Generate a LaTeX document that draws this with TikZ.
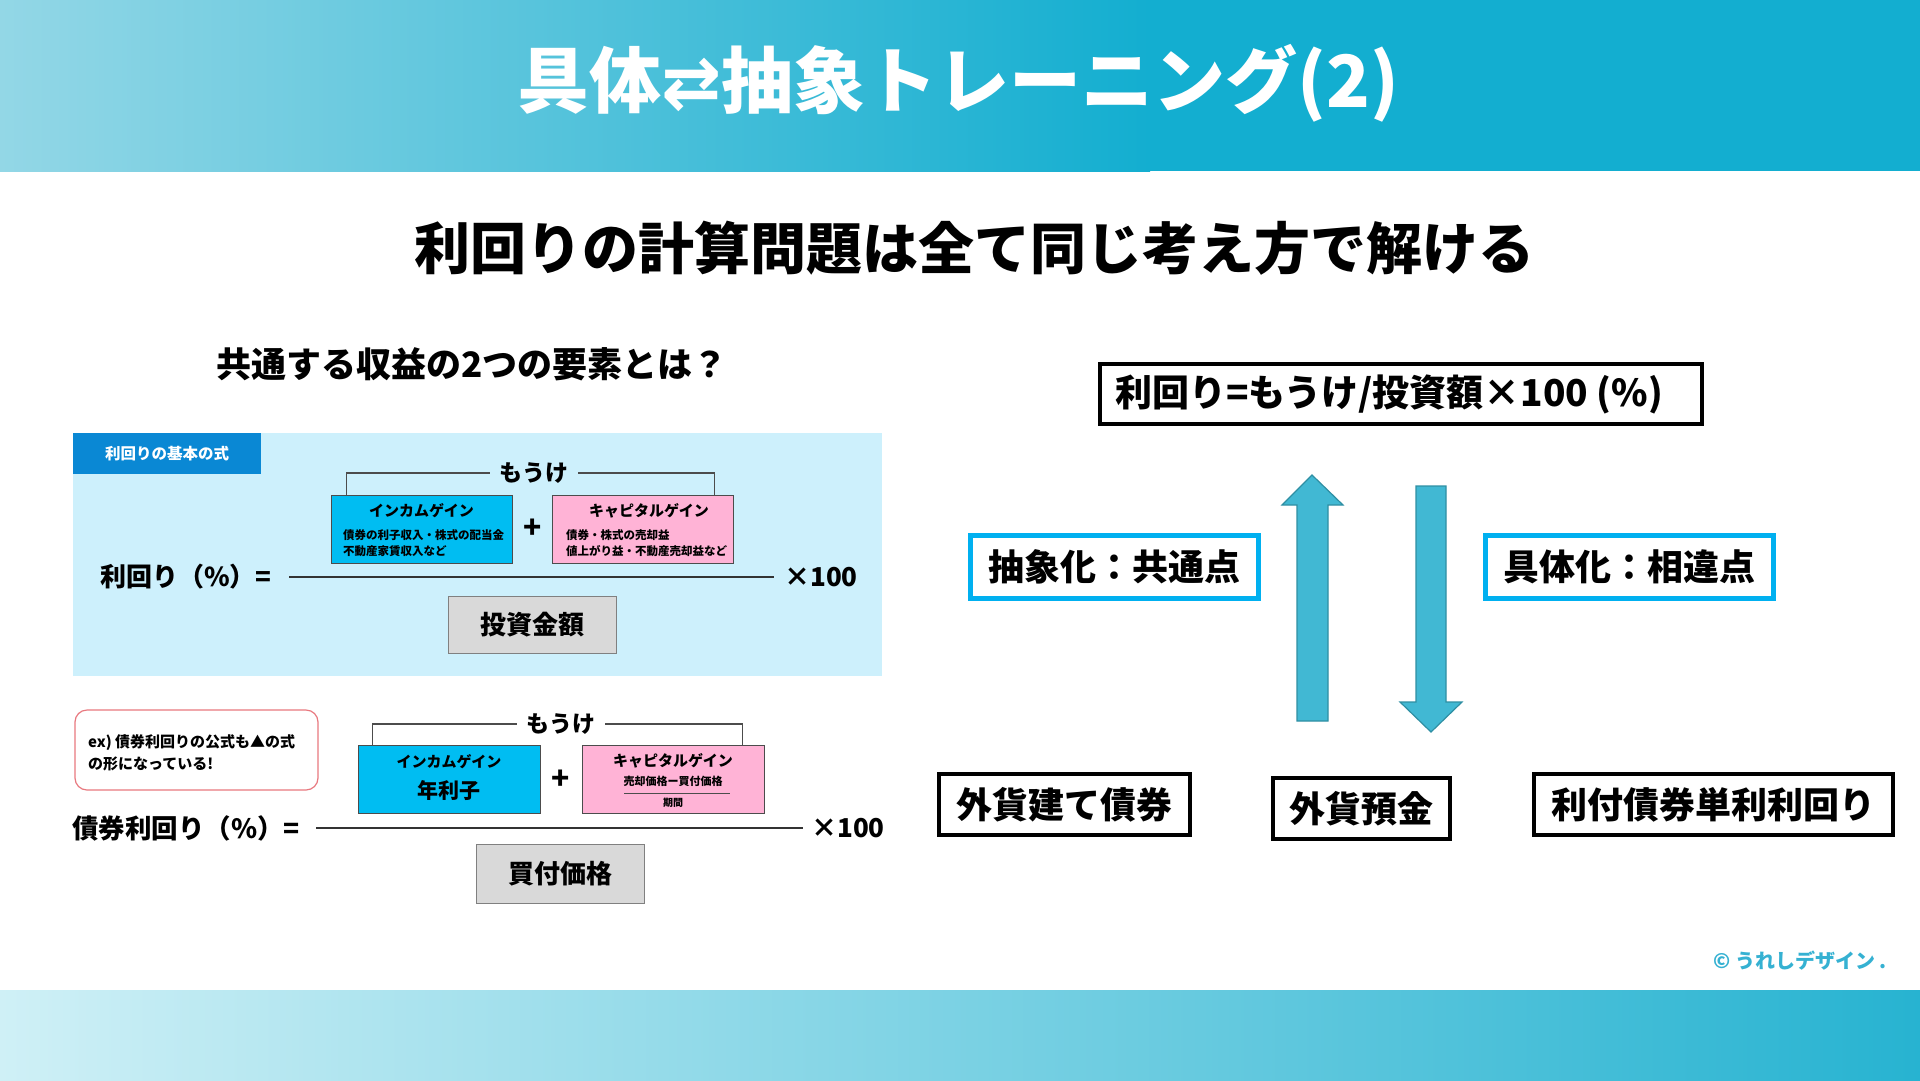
\documentclass[tikz,border=0pt]{standalone}
\usepackage{fontspec}
\setmainfont{Noto Sans CJK JP}
\newfontfamily\dejavu{DejaVu Sans}
\newcommand\fsz[1]{\fontsize{#1}{#1}\selectfont}
\definecolor{hdrL}{HTML}{93D7E6}
\definecolor{hdrR}{HTML}{13AED0}
\definecolor{ftL}{HTML}{CFF0F6}
\definecolor{ftM}{HTML}{98D9E6}
\definecolor{ftR}{HTML}{27B3D1}
\definecolor{panelC}{HTML}{CDF0FC}
\definecolor{tabC}{HTML}{0A88D4}
\definecolor{incC}{HTML}{00BDF2}
\definecolor{capC}{HTML}{FFB3D6}
\definecolor{denC}{HTML}{D9D9D9}
\definecolor{cybC}{HTML}{00B0F0}
\definecolor{arrC}{HTML}{41B8D3}
\definecolor{arrD}{HTML}{2F8FA3}
\definecolor{exC}{HTML}{E8787F}
\definecolor{copyC}{HTML}{35B1D2}
\tikzset{
  incbox/.style={fill=incC, draw=black!70, line width=1pt},
  capbox/.style={fill=capC, draw=black!70, line width=1pt},
  denbox/.style={fill=denC, draw=black!50, line width=1pt},
  blkbox/.style={draw=black, line width=4.5pt, fill=white},
  cybbox/.style={draw=cybC, line width=5pt, fill=white},
  brkline/.style={draw=black!70, line width=1.2pt},
  fracline/.style={draw=black!80, line width=1.5pt},
  bigarrow/.style={fill=arrC, draw=arrD, line width=1.2pt},
}
\begin{document}
\begin{tikzpicture}[x=1pt,y=-1pt, every node/.style={inner sep=0pt, font=\bfseries}]
\useasboundingbox (0,0) rectangle (1920,1080);
\fill[white] (0,0) rectangle (1920,1080);
% header and footer
\fill[hdrR] (0,0) rectangle (1920,171);
\shade[left color=hdrL, right color=hdrR] (0,0) rectangle (1150,171);
\shade[left color=ftL, middle color=ftM, right color=ftR] (0,990) rectangle (1920,1080);
\node[text=white, font=\bfseries\fsz{72}] (title) at (958,83) {具体{\dejavu ⇄}抽象トレーニング(2)};
\node[font=\bfseries\fsz{56}] (sub) at (974,248) {利回りの計算問題は全て同じ考え方で解ける};
\node[font=\bfseries\fsz{35}] (head) at (472,364) {共通する収益の2つの要素とは？};

% ---- panel 1
\fill[panelC] (73,433) rectangle (882,676);
\node[fill=tabC, minimum width=188, minimum height=41, text=white, font=\bfseries\fsz{15.5}] (tab) at (167,453.5) {利回りの基本の式};
\node[incbox, minimum width=181, minimum height=68] (inc1) at (421.5,529) {};
\node[font=\bfseries\fsz{15}] (inc1t) at (421.5,511) {インカムゲイン};
\node[anchor=west, align=left, font=\bfseries\fontsize{11.5}{16}\selectfont] (inc1s) at (343,543) {債券の利子収入・株式の配当金\\不動産家賃収入など};
\node[capbox, minimum width=181, minimum height=68] (cap1) at (642.5,529) {};
\node[font=\bfseries\fsz{15}] (cap1t) at (649,511) {キャピタルゲイン};
\node[anchor=west, align=left, font=\bfseries\fontsize{11.5}{16}\selectfont] (cap1s) at (566,543) {債券・株式の売却益\\値上がり益・不動産売却益など};
\node[font=\bfseries\fsz{30}] (plus1) at (533,529) {+};
\node[font=\bfseries\fsz{23}] (mou1) at (534,473) {もうけ};
\draw[brkline] ([xshift=16]inc1.north west) |- ([xshift=-10]mou1.west);
\draw[brkline] ([xshift=-19]cap1.north east) |- ([xshift=10]mou1.east);
\node[anchor=east, font=\bfseries\fsz{26}] (lhs1) at (272,577) {利回り（\%）=};
\node[anchor=west, font=\bfseries\fsz{26}] (x1) at (784,577) {×100};
\draw[fracline] ([xshift=17]lhs1.east) -- ([xshift=-10]x1.west);
\node[denbox, minimum width=168, minimum height=57, font=\bfseries\fsz{26}] (den1) at (532,624.5) {投資金額};

% ---- panel 2
\node[draw=exC, line width=1.2pt, rounded corners=12, minimum width=243, minimum height=80, fill=white] (ex) at (196.5,750) {};
\node[anchor=west, align=left, font=\bfseries\fontsize{15}{22}\selectfont] (ext) at (88,753) {ex) 債券利回りの公式も▲の式\\の形になっている!};
\node[incbox, minimum width=182, minimum height=68] (inc2) at (449,779) {};
\node[font=\bfseries\fsz{15}] (inc2t) at (449,762) {インカムゲイン};
\node[font=\bfseries\fsz{21}] (inc2s) at (449,791) {年利子};
\node[capbox, minimum width=182, minimum height=68] (cap2) at (673,779) {};
\node[font=\bfseries\fsz{15}] (cap2t) at (673,761) {キャピタルゲイン};
\node[font=\bfseries\fsz{11}] (cap2n) at (673,781) {売却価格ー買付価格};
\draw[black!70, line width=1pt] (624,793) -- (730,793);
\node[font=\bfseries\fsz{10}] (cap2d) at (673,803) {期間};
\node[font=\bfseries\fsz{30}] (plus2) at (561,780) {+};
\node[font=\bfseries\fsz{23}] (mou2) at (561,724) {もうけ};
\draw[brkline] ([xshift=15]inc2.north west) |- ([xshift=-10]mou2.west);
\draw[brkline] ([xshift=-22]cap2.north east) |- ([xshift=10]mou2.east);
\node[anchor=east, font=\bfseries\fsz{26.5}] (lhs2) at (300,828) {債券利回り（\%）=};
\node[anchor=west, font=\bfseries\fsz{26}] (x2) at (811,828) {×100};
\draw[fracline] ([xshift=16]lhs2.east) -- ([xshift=-8]x2.west);
\node[denbox, minimum width=168, minimum height=59, font=\bfseries\fsz{26}] (den2) at (560,873.5) {買付価格};

% ---- right side
\node[blkbox, minimum width=602, minimum height=60, font=\bfseries\fsz{37}] (formula) at (1401,394) {利回り=もうけ/投資額×100 (\%)\hspace*{24pt}};
\node[cybbox, minimum width=288, minimum height=63, font=\bfseries\fsz{36}] (abs) at (1114,566.5) {抽象化：共通点};
\node[cybbox, minimum width=288, minimum height=63, font=\bfseries\fsz{36}] (con) at (1629,566.5) {具体化：相違点};
\draw[bigarrow] (1297,721) -- (1328,721) -- (1328,505) -- (1343,505) -- (1312,475) -- (1282,505) -- (1297,505) -- cycle;
\draw[bigarrow] (1416,486) -- (1446,486) -- (1446,702) -- (1462,702) -- (1431,732) -- (1400,702) -- (1416,702) -- cycle;
\node[blkbox, minimum width=251, minimum height=61, font=\bfseries\fsz{36}] (b1) at (1064.5,804.5) {外貨建て債券};
\node[blkbox, minimum width=177, minimum height=61, font=\bfseries\fsz{36}] (b2) at (1361.5,808.5) {外貨預金};
\node[blkbox, minimum width=359, minimum height=61, font=\bfseries\fsz{36}] (b3) at (1713.5,804.5) {利付債券単利利回り};
\node[text=copyC, font=\bfseries\fsz{20}] (copy) at (1800,961) {© うれしデザイン .};
\end{tikzpicture}
\end{document}
